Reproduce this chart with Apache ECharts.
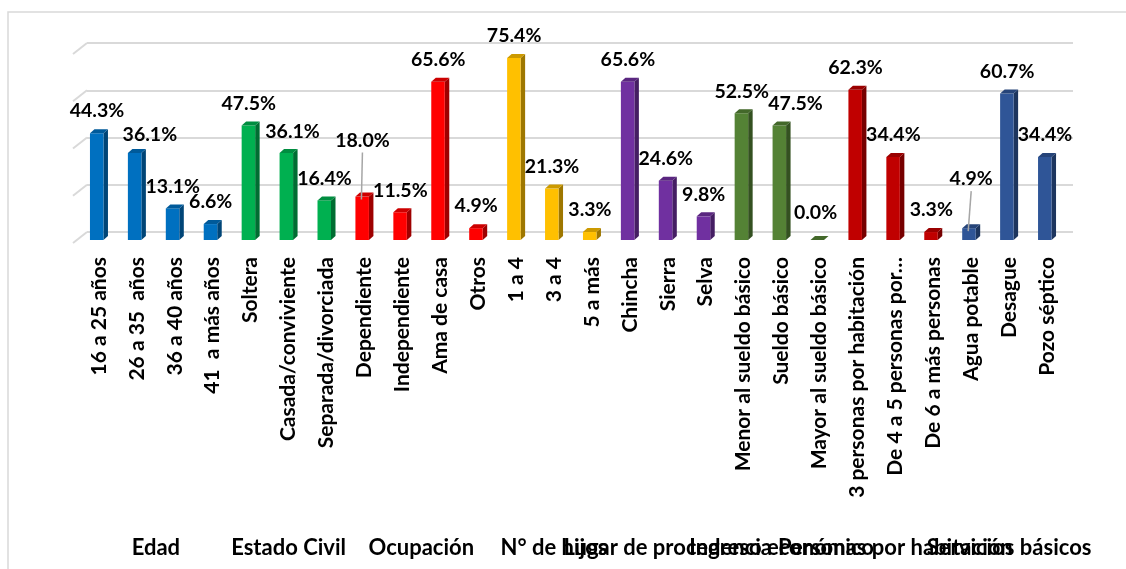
<!DOCTYPE html>
<html style="height: 100%">
<head>
    <meta charset="UTF-8">
</head>
<body style="height: 100%; margin: 0; background: #fff">
<div id="container" style="width: 1126px; height: 569px"></div>
<script type="text/javascript" src="https://cdn.jsdelivr.net/npm/echarts@6.0.0/dist/echarts.min.js"></script>
<script type="text/javascript">
var categories = ['16 a 25 años', '26 a 35  años', '36 a 40 años', '41  a más años',
    'Soltera', 'Casada/conviviente', 'Separada/divorciada',
    'Dependiente', 'Independiente', 'Ama de casa', 'Otros',
    '1 a 4', '3 a 4', '5 a más',
    'Chincha', 'Sierra', 'Selva',
    'Menor al sueldo básico', 'Sueldo básico', 'Mayor al sueldo básico',
    '3 personas por habitación', 'De 4 a 5 personas por…', 'De 6 a más personas',
    'Agua potable', 'Desague', 'Pozo séptico'];
var values = [44.3, 36.1, 13.1, 6.6,
    47.5, 36.1, 16.4,
    18.0, 11.5, 65.6, 4.9,
    75.4, 21.3, 3.3,
    65.6, 24.6, 9.8,
    52.5, 47.5, 0.0,
    62.3, 34.4, 3.3,
    4.9, 60.7, 34.4];
var groups = ['Edad', 'Estado Civil', 'Ocupación', 'N° de hijos', 'Lugar de procedencia',
    'Ingreso económico', 'Personas por habitación', 'Servicios básicos'];
var groupSizes = [4, 3, 4, 3, 3, 3, 3, 3];
var yTicks = [0, 20, 40, 60, 80];

var groupColors = ['#0070C0', '#00B050', '#FF0000', '#FFC000', '#7030A0', '#548235', '#C00000', '#2F5597'];
// label nudges [dx, dy] for a few bars, plus which ones get a leader line
var labelShift = { 1: [15, 4], 5: [6, 1], 7: [0, -34], 18: [16, 0], 19: [-2, -5], 23: [2, -27] };
var leaders = { 7: true, 23: true };

var barColor = [];
var groupRanges = [];
var k = 0;
for (var g = 0; g < groups.length; g++) {
    groupRanges.push([k, k + groupSizes[g] - 1, groups[g]]);
    for (var j = 0; j < groupSizes[g]; j++) {
        barColor.push(groupColors[g]);
        k++;
    }
}

function shade(hex, f) {
    var c = echarts.color.parse(hex);
    return 'rgb(' + Math.round(c[0] * f) + ',' + Math.round(c[1] * f) + ',' + Math.round(c[2] * f) + ')';
}

var fontFam = 'Lato, "Open Sans", sans-serif';

function renderBar(params, api) {
    var idx = api.value(0);
    var val = api.value(1);
    var top = api.coord([idx, val]);
    var base = api.coord([idx, 0]);
    var c = top[0];
    var x0 = c - 9, x1 = c + 4.5, x2 = c + 9, d = 4;
    var col = barColor[idx];
    var kids = [
        { type: 'polygon', shape: { points: [[x1, top[1]], [x2, top[1] - d], [x2, base[1] - d], [x1, base[1]]] },
          style: { fill: shade(col, 0.62) } },
        { type: 'rect', shape: { x: x0, y: top[1], width: x1 - x0, height: base[1] - top[1] },
          style: { fill: col } },
        { type: 'polygon', shape: { points: [[x0, top[1]], [x1, top[1]], [x2, top[1] - d], [x0 + 4.5, top[1] - d]] },
          style: { fill: shade(col, 0.8) } }
    ];
    var sh = labelShift[idx] || [0, 0];
    var lx = c - 2 + sh[0];
    var ly = top[1] - 22 + sh[1];
    if (leaders[idx]) {
        kids.push({ type: 'line', shape: { x1: lx, y1: ly + 12, x2: c - 3, y2: top[1] + 3 },
            style: { stroke: '#a6a6a6', lineWidth: 1.5 } });
    }
    kids.push({ type: 'text', x: lx, y: ly,
        style: { text: val.toFixed(1) + '%', fill: '#000', font: 'bold 19.5px ' + fontFam,
                 align: 'center', verticalAlign: 'middle' } });
    return { type: 'group', children: kids };
}

function renderGroupLabel(params, api) {
    var a = api.coord([api.value(0), 0]);
    var b = api.coord([api.value(1), 0]);
    return { type: 'text', x: (a[0] + b[0]) / 2, y: 548,
        style: { text: groupRanges[params.dataIndex][2], fill: '#000', font: 'bold 22px ' + fontFam,
                 align: 'center', verticalAlign: 'middle' } };
}

function renderDiag(params, api) {
    var p = api.coord([0, api.value(0)]);
    return { type: 'line', shape: { x1: p[0] - 14, y1: p[1] + 11, x2: p[0], y2: p[1] },
        style: { stroke: '#d9d9d9', lineWidth: 2 } };
}

var myChart = echarts.init(document.getElementById('container'));
var option = {
    animation: false,
    graphic: [{ type: 'rect', shape: { x: 8, y: 12, width: 1200, height: 600 },
        style: { fill: 'none', stroke: '#d9d9d9', lineWidth: 1.5 }, z: -10 }],
    grid: [
        { left: 80, right: 60, top: 47, height: 193 },
        { left: 87, right: 53, top: 43, height: 189 }
    ],
    xAxis: [
        { gridIndex: 0, type: 'category', data: categories,
          axisLine: { show: false }, axisTick: { show: false },
          axisLabel: { interval: 0, rotate: 90, margin: 17, color: '#000', fontFamily: fontFam,
                       fontWeight: 'bold', fontSize: 21 } },
        { gridIndex: 1, type: 'value', min: 0, max: 1, show: false }
    ],
    yAxis: [
        { gridIndex: 0, type: 'value', min: 0, max: 80, interval: 20, show: false },
        { gridIndex: 1, type: 'value', min: 0, max: 80, interval: 20,
          axisLine: { show: false }, axisTick: { show: false }, axisLabel: { show: false },
          splitLine: { show: true, lineStyle: { color: '#d9d9d9', width: 2 } } }
    ],
    series: [
        { type: 'custom', xAxisIndex: 1, yAxisIndex: 1, data: yTicks, renderItem: renderDiag,
          clip: false, z: 1, silent: true },
        { type: 'custom', xAxisIndex: 0, yAxisIndex: 0,
          data: values.map(function (v, i) { return [i, v]; }),
          renderItem: renderBar, clip: false, z: 5 },
        { type: 'custom', xAxisIndex: 0, yAxisIndex: 0,
          data: groupRanges.map(function (r) { return [r[0], r[1]]; }),
          renderItem: renderGroupLabel, clip: false, z: 6 }
    ]
};
option && myChart.setOption(option);
</script>
</body>
</html>
